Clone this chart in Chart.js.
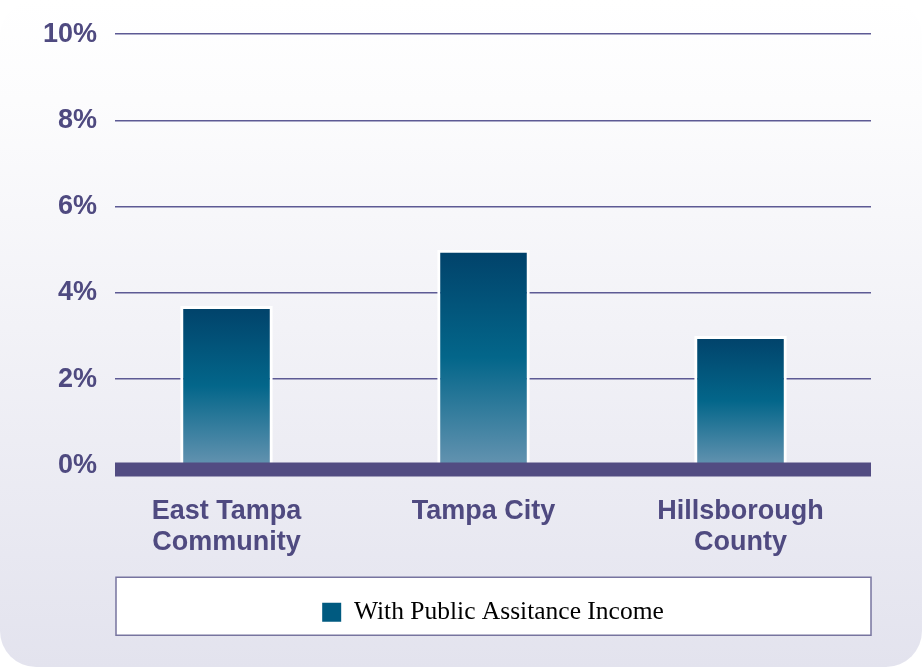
<!DOCTYPE html>
<html>
<head>
<meta charset="utf-8">
<script src="https://cdn.jsdelivr.net/npm/chart.js@4.4.1/dist/chart.umd.min.js"></script>
<style>
    html, body { margin: 0; padding: 0; background: #ffffff; }
    #wrap {
        width: 922px;
        height: 667px;
        border-radius: 36px;
        background: linear-gradient(to bottom, #ffffff 0%, #fcfcfd 15%, #e3e3ee 100%);
        overflow: hidden;
    }
</style>
</head>
<body>
<div id="wrap"><canvas id="myChart" width="922" height="667"></canvas></div>
<script>
const categories = [['East Tampa', 'Community'], 'Tampa City', ['Hillsborough', 'County']];
const seriesName = 'With Public Assitance Income';
const assistance = [3.7, 5.0, 3.0];
const yTicks = [0, 2, 4, 6, 8, 10];

const purple = '#4f4a80';

function barGradient(context) {
    const chart = context.chart;
    const { ctx, scales } = chart;
    if (!scales.y || context.parsed === undefined) return '#005a80';
    const top = scales.y.getPixelForValue(context.parsed.y);
    const bottom = scales.y.getPixelForValue(0);
    const g = ctx.createLinearGradient(0, top, 0, bottom);
    g.addColorStop(0, '#01426a');
    g.addColorStop(0.5, '#03668a');
    g.addColorStop(1, '#6493b0');
    return g;
}

// legend centred under the plot, inside a white box;
// category band sits a little left of the gridlines like the original
const legendBox = {
    id: 'legendBox',
    afterLayout(chart) {
        const { chartArea, legend, scales } = chart;
        legend.left = chartArea.left;
        legend.right = chartArea.right;
        legend.width = chartArea.right - chartArea.left;
        const x = scales.x;
        x.left = chartArea.left - 17;
        x.right = chartArea.right - 2;
        x.width = x.right - x.left;
        x.configure();
    },
    beforeDraw(chart) {
        const { ctx, chartArea, legend } = chart;
        const mid = (legend.top + legend.bottom) / 2;
        ctx.save();
        ctx.fillStyle = '#ffffff';
        ctx.strokeStyle = '#77749f';
        ctx.lineWidth = 1.5;
        ctx.fillRect(chartArea.left + 1, mid - 32, chartArea.right - chartArea.left - 1, 58);
        ctx.strokeRect(chartArea.left + 1, mid - 32, chartArea.right - chartArea.left - 1, 58);
        ctx.restore();
    }
};

// thick purple base under the bars
const baseLine = {
    id: 'baseLine',
    afterDatasetsDraw(chart) {
        const { ctx, chartArea, scales } = chart;
        const y0 = scales.y.getPixelForValue(0);
        ctx.save();
        ctx.fillStyle = '#524c82';
        ctx.fillRect(chartArea.left, y0 - 3, chartArea.right - chartArea.left, 14);
        ctx.restore();
    }
};

const ctx = document.getElementById('myChart').getContext('2d');
const chart = new Chart(ctx, {
    type: 'bar',
    data: {
        labels: categories,
        datasets: [{
            label: seriesName,
            data: assistance,
            backgroundColor: barGradient,
            borderColor: '#ffffff',
            borderWidth: 3,
            borderSkipped: 'bottom',
            categoryPercentage: 0.36,
            barPercentage: 1
        }]
    },
    options: {
        responsive: false,
        animation: false,
        layout: {
            padding: { left: 0, right: 51, top: 33, bottom: 32 }
        },
        plugins: {
            tooltip: { enabled: false },
            legend: {
                position: 'bottom',
                labels: {
                    font: { family: '"Liberation Serif", serif', size: 25.5 },
                    color: '#222222',
                    boxWidth: 19,
                    boxHeight: 19,
                    padding: 16,
                    generateLabels: (c) => [{
                        text: seriesName,
                        fillStyle: '#005a80',
                        strokeStyle: '#005a80',
                        lineWidth: 0,
                        datasetIndex: 0
                    }]
                }
            }
        },
        scales: {
            x: {
                grid: { display: false, drawTicks: false },
                border: { display: false },
                ticks: {
                    color: purple,
                    font: { family: '"Liberation Sans", Arial, sans-serif', size: 27, weight: 'bold', lineHeight: 1.17 },
                    padding: 30,
                    maxRotation: 0
                },
                afterFit: (scale) => { scale.height = 118; }
            },
            y: {
                min: 0,
                max: 10,
                afterBuildTicks: (scale) => {
                    scale.ticks = yTicks.map(v => ({ value: v }));
                },
                grid: { color: '#5d5a94', lineWidth: 1.5, drawTicks: false },
                border: { display: false },
                ticks: {
                    color: purple,
                    font: { family: '"Liberation Sans", Arial, sans-serif', size: 27, weight: 'bold' },
                    padding: 18,
                    callback: (v) => v + '%'
                },
                afterFit: (scale) => { scale.width = 115; }
            }
        }
    },
    plugins: [legendBox, baseLine]
});
</script>
</body>
</html>
